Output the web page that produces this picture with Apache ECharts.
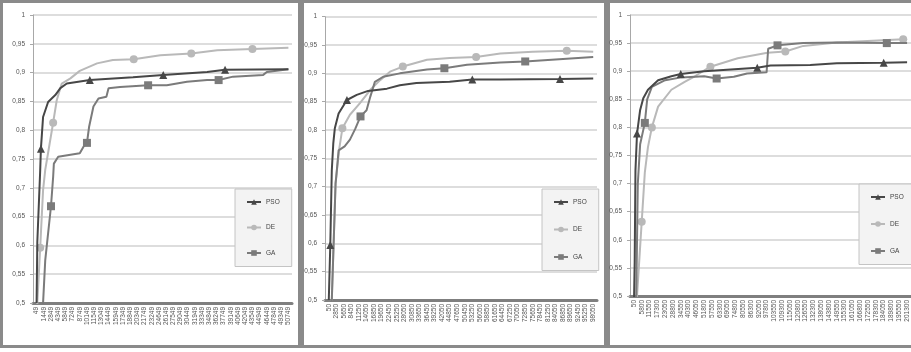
<!DOCTYPE html>
<html><head><meta charset="utf-8">
<script src="https://cdn.jsdelivr.net/npm/echarts@6/dist/echarts.min.js"></script>
<style>html,body{margin:0;padding:0;background:#fff}#c{width:911px;height:352px}</style>
</head><body><div id="c"></div>
<script>
// ---- tick labels (category axes) ----
const p1Labels = ['49','1449','2849','4349','5849','7249','8749','10149','11549','13049','14449','15949','17349','18849','20349','21749','23249','24649','26149','27549','29049','30449','31949','33349','34849','36249','37749','39149','40649','42049','43549','44949','46449','47849','49349','50749'];
const p2Labels = ['50','2850','5650','8450','11250','14050','16850','19650','22450','25250','28050','30850','33650','36450','39250','42050','44850','47650','50450','53250','56050','58850','61650','64450','67250','70050','72850','75650','78450','81250','84050','86850','89650','92450','95250','98050'];
const p3Labels = ['50','5800','11550','17300','23050','28800','34550','40300','46050','51800','57550','63300','69050','74800','80550','86300','92050','97800','103550','109300','115050','120800','126550','132300','138050','143800','149550','155300','161050','166800','172550','178300','184050','189800','195550','201300'];
const seriesNames = ['PSO','DE','GA'];
const yTicks = [0.5, 1, 0.05]; // min, max, step

// ---- series values: [position in label units, fitness] ----
const p1PSO = [[0,0.5],[0.1,0.606],[0.5,0.73],[0.6,0.768],[0.9,0.823],[1.6,0.849],[2.6,0.861],[3.3,0.873],[4.2,0.881],[7.4,0.887],[13.4,0.892],[17.6,0.896],[23.7,0.901],[26.2,0.905],[35,0.906]];
const p1PSOMarks = [0.6,7.4,17.6,26.2];
const p1DE = [[0,0.45],[0.1,0.5],[0.5,0.596],[0.9,0.696],[1.2,0.731],[2.3,0.813],[2.8,0.852],[3.5,0.881],[4.7,0.89],[6.0,0.903],[8.4,0.916],[10.6,0.922],[13.5,0.923],[17.2,0.93],[21.5,0.933],[25.1,0.939],[30.0,0.941],[35,0.943]];
const p1DEMarks = [0.5,2.3,13.5,21.5,30.0];
const p1GA = [[0.8,0.45],[0.9,0.5],[1.2,0.574],[2.0,0.668],[2.3,0.719],[2.4,0.742],[3.0,0.754],[6.0,0.76],[6.5,0.771],[7.0,0.778],[7.3,0.806],[7.9,0.841],[8.6,0.855],[9.7,0.858],[10.0,0.873],[11.6,0.875],[15.5,0.878],[18.1,0.878],[20.9,0.884],[23.7,0.887],[25.3,0.887],[27.3,0.893],[31.5,0.896],[32.0,0.901],[35,0.906]];
const p1GAMarks = [2.0,7.0,15.5,25.3];

const p2PSO = [[0,0.5],[0.2,0.597],[0.4,0.729],[0.6,0.777],[0.8,0.803],[1.3,0.829],[2.4,0.853],[3.7,0.862],[5.2,0.869],[7.7,0.873],[9.4,0.879],[11.6,0.883],[16.0,0.885],[19.0,0.889],[22.7,0.889],[30.6,0.89],[35,0.891]];
const p2PSOMarks = [0.2,2.4,19.0,30.6];
const p2DE = [[0.3,0.47],[0.4,0.5],[0.9,0.706],[1.0,0.719],[1.4,0.768],[1.8,0.803],[2.8,0.827],[4.1,0.847],[5.5,0.871],[6.8,0.888],[8.1,0.903],[9.8,0.912],[13.0,0.924],[16.0,0.927],[19.5,0.929],[22.7,0.935],[27.0,0.938],[31.5,0.94],[35,0.938]];
const p2DEMarks = [1.8,9.8,19.5,31.5];
const p2GA = [[0.3,0.47],[0.4,0.5],[0.9,0.706],[1.0,0.719],[1.3,0.764],[2.1,0.771],[2.8,0.783],[3.5,0.802],[4.2,0.824],[5.0,0.835],[5.5,0.859],[6.1,0.885],[7.2,0.894],[9.4,0.9],[13.0,0.907],[15.3,0.909],[18.3,0.915],[22.7,0.919],[26.0,0.921],[35,0.929]];
const p2GAMarks = [4.2,15.3,26.0];

const p3PSO = [[0,0.48],[0.1,0.56],[0.2,0.724],[0.4,0.789],[0.8,0.831],[1.2,0.852],[1.8,0.867],[3.1,0.884],[4.8,0.891],[6.0,0.895],[9.0,0.9],[15.8,0.906],[17.5,0.91],[22.6,0.911],[26.0,0.914],[32.0,0.915],[35,0.916]];
const p3PSOMarks = [0.4,6.0,15.8,32.0];
const p3DE = [[0.3,0.47],[0.4,0.5],[1.0,0.632],[1.4,0.72],[1.8,0.765],[2.3,0.8],[3.1,0.837],[4.8,0.867],[6.5,0.881],[7.8,0.891],[9.8,0.908],[13.3,0.923],[17.1,0.933],[19.4,0.935],[21.7,0.945],[26.0,0.951],[34.5,0.957],[35,0.956]];
const p3DEMarks = [1.0,2.3,9.8,19.4,34.5];
const p3GA = [[0.2,0.47],[0.3,0.5],[0.5,0.7],[0.8,0.77],[1.4,0.808],[1.7,0.85],[2.3,0.872],[4.0,0.884],[6.1,0.889],[9.0,0.891],[10.6,0.887],[12.8,0.89],[14.5,0.896],[17.0,0.898],[17.2,0.94],[18.4,0.946],[21.7,0.95],[26.0,0.951],[32.4,0.95],[35,0.95]];
const p3GAMarks = [1.4,10.6,18.4,32.4];

// ---- build ----
const SUB = 10;
function fineCats(labels){
  const cats = [];
  for (let f = 0; f <= labels.length*SUB; f++) {
    cats.push((f % SUB === SUB/2) ? labels[(f - SUB/2)/SUB] : '');
  }
  return cats;
}
function buildData(pts, marks){
  return pts.map(p => {
    const f = Math.round(p[0]*SUB) + SUB/2;
    const isMark = marks.some(m => Math.abs(m - p[0]) < 1e-6);
    return isMark ? {value:[f, p[1]]} : {value:[f, p[1]], symbol:'none'};
  });
}
const colors = {PSO:'#474747', DE:'#b9b9b9', GA:'#7b7b7b'};
const shapes = {PSO:'triangle', DE:'circle', GA:'rect'};
const panels = [
  {labels:p1Labels, grid:{left:33, top:15, width:259, height:288}, data:{PSO:[p1PSO,p1PSOMarks], DE:[p1DE,p1DEMarks], GA:[p1GA,p1GAMarks]},
   legend:{left:235, top:189, gap:18.5}},
  {labels:p2Labels, grid:{left:325, top:16.7, width:272, height:283.3}, data:{PSO:[p2PSO,p2PSOMarks], DE:[p2DE,p2DEMarks], GA:[p2GA,p2GAMarks]},
   legend:{left:542, top:189, gap:20.5}},
  {labels:p3Labels, grid:{left:630, top:15, width:283, height:281}, data:{PSO:[p3PSO,p3PSOMarks], DE:[p3DE,p3DEMarks], GA:[p3GA,p3GAMarks]},
   legend:{left:859, top:184, gap:20}}
];
const font = 'Liberation Sans';
const grids=[], xAxes=[], yAxes=[], series=[], legends=[];
panels.forEach((p, k) => {
  grids.push(Object.assign({containLabel:false}, p.grid));
  xAxes.push({type:'category', gridIndex:k, data:fineCats(p.labels), boundaryGap:false,
    axisLine:{lineStyle:{color:'#7f7f7f', width:3}}, axisTick:{show:false},
    axisLabel:{interval:0, rotate:90, fontSize:6.5, color:'#555', margin:4, fontFamily:font},
    splitLine:{show:false}});
  yAxes.push({type:'value', gridIndex:k, min:yTicks[0], max:yTicks[1], interval:yTicks[2],
    axisLine:{show:true, lineStyle:{color:'#a8a8a8', width:1}},
    axisTick:{show:true, length:3, lineStyle:{color:'#a8a8a8'}},
    axisLabel:{fontSize:6.5, color:'#555', margin:8, fontFamily:font,
      formatter:v => String(+v.toFixed(2)).replace('.', ',')},
    splitLine:{show:true, lineStyle:{color:'#d2d2d2', width:1.6}}});
  seriesNames.forEach(n => {
    series.push({name:n, type:'line', xAxisIndex:k, yAxisIndex:k,
      data:buildData(p.data[n][0], p.data[n][1]),
      symbol:shapes[n], symbolSize:8, showSymbol:true, showAllSymbol:true,
      color:colors[n], lineStyle:{color:colors[n], width:2},
      itemStyle:{color:colors[n]}, clip:true, animation:false,
      z: n==='PSO'?4:(n==='GA'?3:2)});
  });
  legends.push({data:seriesNames, orient:'vertical', left:p.legend.left, top:p.legend.top,
    itemWidth:14, itemHeight:7, itemGap:p.legend.gap,
    padding:[9.5,12,10,11], borderColor:'#c4c4c4', borderWidth:1, backgroundColor:'#f3f3f3',
    textStyle:{fontSize:6.5, color:'#444', fontFamily:font}, selectedMode:false});
});
const frameStyle = {fill:'none', stroke:'#8a8a8a', lineWidth:3};
const chart = echarts.init(document.getElementById('c'), null, {renderer:'canvas'});
chart.setOption({
  animation:false,
  grid:grids, xAxis:xAxes, yAxis:yAxes, series:series, legend:legends,
  graphic:[
    {type:'rect', shape:{x:1.5, y:1.5, width:298, height:345}, style:frameStyle, silent:true},
    {type:'rect', shape:{x:302.5, y:1.5, width:303, height:345}, style:frameStyle, silent:true},
    {type:'rect', shape:{x:608.5, y:1.5, width:310, height:345}, style:frameStyle, silent:true}
  ]
});
</script></body></html>
